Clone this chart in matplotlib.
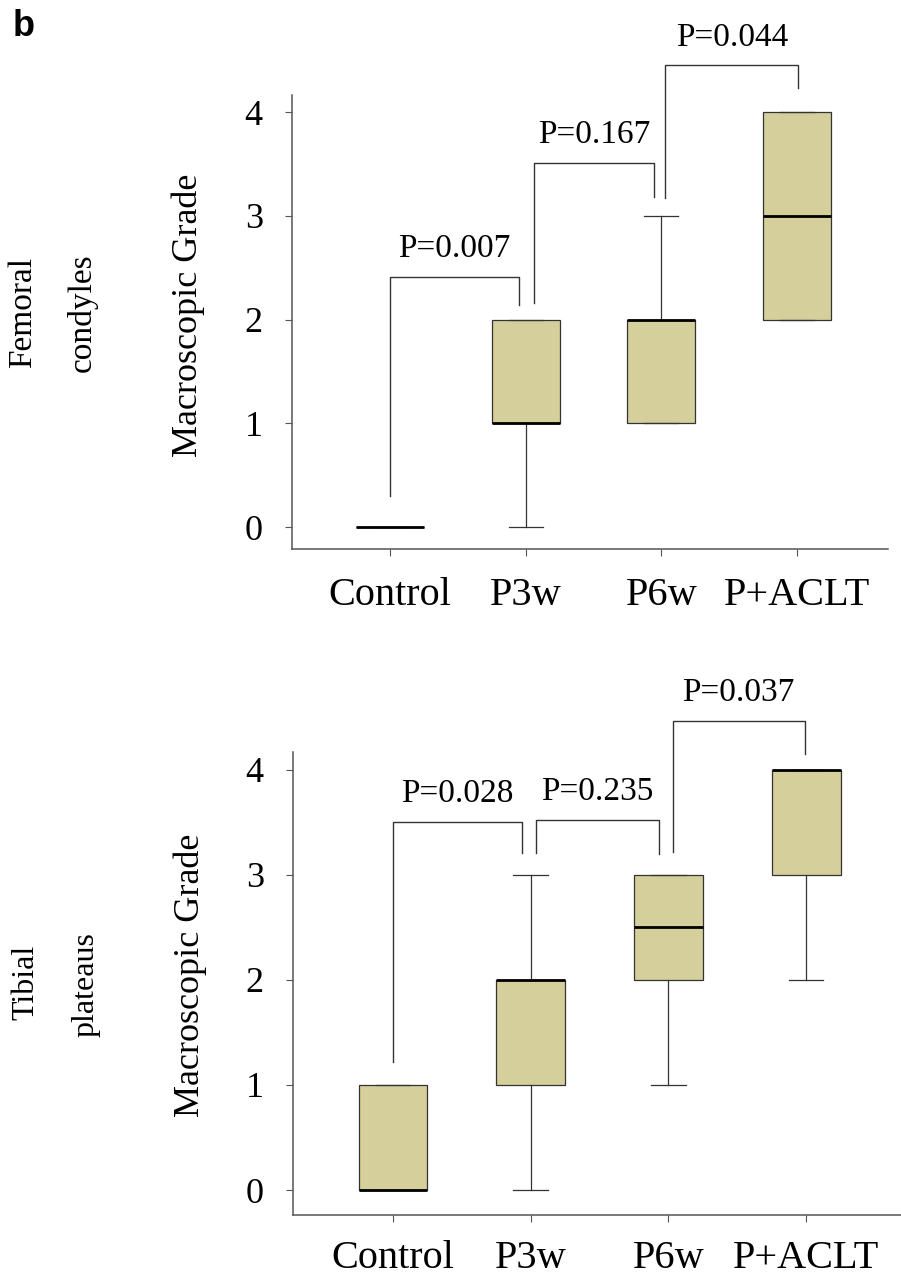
import matplotlib
matplotlib.use("Agg")
import matplotlib.pyplot as plt

plt.rcParams["font.family"] = ["Liberation Serif", "DejaVu Serif"]

groups = ["Control", "P3w", "P6w", "P+ACLT"]

# femoral condyles, box summaries
fem_lo = [0, 0, 1, 2]
fem_q1 = [0, 1, 1, 2]
fem_med = [0, 1, 2, 3]
fem_q3 = [0, 2, 2, 4]
fem_hi = [0, 2, 3, 4]

# tibial plateaus
tib_lo = [0, 0, 1, 2]
tib_q1 = [0, 1, 2, 3]
tib_med = [0, 2, 2.5, 4]
tib_q3 = [1, 2, 3, 4]
tib_hi = [1, 3, 3, 4]

# p-value brackets: label, left x, right x, top, left leg bottom, right leg bottom
fem_pvals = ["P=0.007", "P=0.167", "P=0.044"]
fem_x0 = [1.0, 2.06, 3.03]
fem_x1 = [1.95, 2.945, 4.01]
fem_top = [2.41, 3.51, 4.45]
fem_y0 = [0.30, 2.16, 3.17]
fem_y1 = [2.14, 3.18, 4.23]

tib_pvals = ["P=0.028", "P=0.235", "P=0.037"]
tib_x0 = [1.0, 2.037, 3.03]
tib_x1 = [1.937, 2.93, 3.99]
tib_top = [3.50, 3.52, 4.47]
tib_y0 = [1.22, 3.21, 3.22]
tib_y1 = [3.21, 3.20, 4.15]

FILL = "#d4cf9b"
LINE = "#333333"


def draw_panel(ax, lo, q1, med, q3, hi, pvals, x0, x1, top, y0, y1, ylim, xlim, xpad):
    stats = [
        dict(whislo=a, q1=b, med=c, q3=d, whishi=e, fliers=[])
        for a, b, c, d, e in zip(lo, q1, med, q3, hi)
    ]
    ax.bxp(
        stats, positions=range(1, len(stats) + 1), widths=0.5,
        patch_artist=True, showfliers=False,
        boxprops=dict(facecolor=FILL, edgecolor=LINE, linewidth=0.9),
        medianprops=dict(color="black", linewidth=2.0),
        whiskerprops=dict(color=LINE, linewidth=0.9),
        capprops=dict(color=LINE, linewidth=0.9),
    )

    for lab, a, b, t, ya, yb in zip(pvals, x0, x1, top, y0, y1):
        ax.plot([a, a, b, b], [ya, t, t, yb], color=LINE, lw=1.0, clip_on=False)
        ax.text((a + b) / 2, t + 0.19, lab, ha="center", va="baseline",
                fontsize=24, clip_on=False)

    ax.set_xlim(*xlim)
    ax.set_ylim(*ylim)
    ax.set_yticks([0, 1, 2, 3, 4])
    ax.set_xticks(range(1, len(groups) + 1))
    ax.set_xticklabels(groups)
    ax.spines["top"].set_visible(False)
    ax.spines["right"].set_visible(False)
    for s in ("left", "bottom"):
        ax.spines[s].set_color("#555555")
        ax.spines[s].set_linewidth(1.1)
    ax.tick_params(axis="y", direction="out", length=5, width=0.8,
                   color="#555555", labelsize=26, pad=16)
    ax.tick_params(axis="x", direction="out", length=5, width=0.8,
                   color="#555555", labelsize=29, pad=xpad)


fig = plt.figure(figsize=(9.01, 12.78), dpi=100)

ax1 = fig.add_axes([0.3241, 0.5704, 0.6615, 0.3552])
draw_panel(ax1, fem_lo, fem_q1, fem_med, fem_q3, fem_hi,
           fem_pvals, fem_x0, fem_x1, fem_top, fem_y0, fem_y1,
           ylim=(-0.212, 4.164), xlim=(0.278, 4.67), xpad=15)

ax2 = fig.add_axes([0.3252, 0.0493, 0.6748, 0.3623])
draw_panel(ax2, tib_lo, tib_q1, tib_med, tib_q3, tib_hi,
           tib_pvals, tib_x0, tib_x1, tib_top, tib_y0, tib_y1,
           ylim=(-0.238, 4.171), xlim=(0.274, 4.689), xpad=13)

# axis titles and row labels placed in figure pixels
W, H = 901, 1278
fig.text(188 / W, 1 - 315 / H, "Macroscopic Grade", rotation=90,
         ha="center", va="center", fontsize=26)
fig.text(190 / W, 1 - 975 / H, "Macroscopic Grade", rotation=90,
         ha="center", va="center", fontsize=26)
fig.text(23 / W, 1 - 313 / H, "Femoral", rotation=90,
         ha="center", va="center", fontsize=24)
fig.text(82 / W, 1 - 313 / H, "condyles", rotation=90,
         ha="center", va="center", fontsize=24)
fig.text(26 / W, 1 - 982 / H, "Tibial", rotation=90,
         ha="center", va="center", fontsize=23)
fig.text(86 / W, 1 - 985 / H, "plateaus", rotation=90,
         ha="center", va="center", fontsize=23)

fig.text(13 / W, 1 - 9 / H, "b", ha="left", va="top", fontsize=26,
         fontweight="bold", family=["Liberation Sans", "DejaVu Sans"])

fig.savefig("out.png", dpi=100)
